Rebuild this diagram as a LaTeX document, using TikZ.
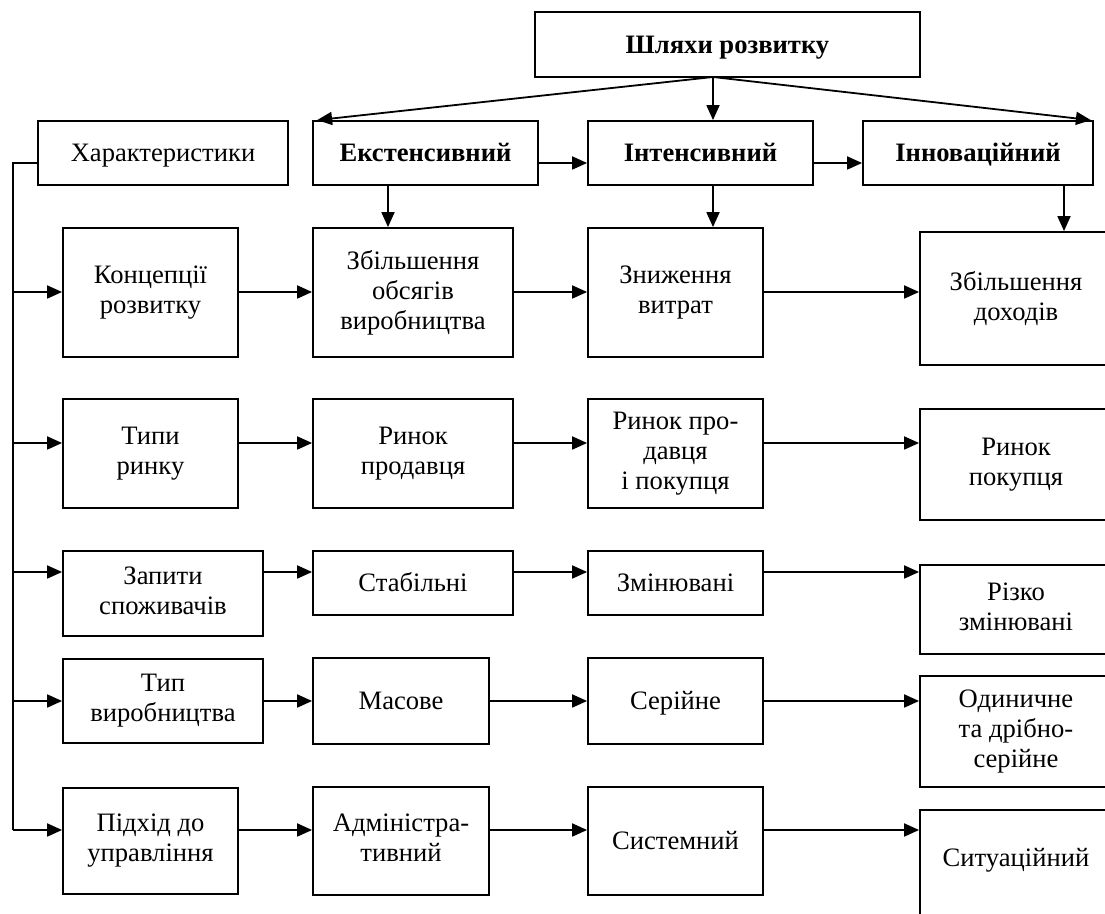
\documentclass[tikz,border=0pt]{standalone}
\usepackage{fontspec}
\setmainfont{Liberation Serif}
\usetikzlibrary{arrows.meta,calc}
\tikzset{
  box/.style={draw, line width=0.9pt, inner sep=0pt, align=center,
    font=\fontsize{13.3}{15}\selectfont,
    execute at begin node={\rule{0pt}{11.85pt}},
    execute at end node={\rule[-2.9pt]{0pt}{2.9pt}}},
  arr/.style={line width=0.9pt, -{Triangle[length=7.5pt,width=6.5pt]}},
  ln/.style={line width=0.9pt}
}
\newcommand\bx[7][]{%
  \pgfmathsetmacro\bxw{(#5-#3)*0.5}%
  \pgfmathsetmacro\bxh{(#6-#4)*0.5}%
  \node[box, minimum width=\bxw pt, minimum height=\bxh pt, #1] (#2)
    at ({(#3+#5)/2},{(#4+#6)/2}) {#7};}
\begin{document}
\begin{tikzpicture}[x=0.5pt,y=-0.5pt]
\fill[white] (0,0) rectangle (1105,914);
\useasboundingbox (0,0) rectangle (1105,914);
\clip (0,0) rectangle (1105,914);
% header
\bx{top}{535}{12}{920}{77}{\textbf{Шляхи розвитку}}
\bx{har}{38}{121}{288}{185}{Характеристики}
\bx{ekst}{313}{121}{538}{185}{\textbf{Екстенсивний}}
\bx{intn}{588}{121}{813}{185}{\textbf{Інтенсивний}}
\bx{innov}{863}{121}{1093}{185}{\textbf{Інноваційний}}
% row 1
\bx{r1a}{63}{228}{238}{357}{Концепції\\розвитку}
\bx{r1b}{313}{228}{513}{357}{Збільшення\\обсягів\\виробництва}
\bx{r1c}{588}{228}{763}{357}{Зниження\\витрат}
\bx{r1d}{920}{232}{1112}{365}{Збільшення\\доходів}
% row 2
\bx{r2a}{63}{399}{238}{508}{Типи\\ринку}
\bx{r2b}{313}{399}{513}{508}{Ринок\\продавця}
\bx{r2c}{588}{399}{763}{508}{Ринок про-\\давця\\і покупця}
\bx{r2d}{920}{409}{1112}{520}{Ринок\\покупця}
% row 3
\bx{r3a}{63}{551}{263}{636}{Запити\\споживачів}
\bx{r3b}{313}{551}{513}{615}{Стабільні}
\bx{r3c}{588}{551}{763}{615}{Змінювані}
\bx{r3d}{920}{565}{1112}{654}{Різко\\змінювані}
% row 4
\bx{r4a}{63}{659}{263}{743}{Тип\\виробництва}
\bx{r4b}{313}{658}{489}{744}{Масове}
\bx{r4c}{588}{658}{763}{744}{Серійне}
\bx{r4d}{920}{676}{1112}{787}{Одиничне\\та дрібно-\\серійне}
% row 5
\bx{r5a}{63}{788}{238}{894}{Підхід до\\управління}
\bx{r5b}{313}{787}{489}{895}{Адміністра-\\тивний}
\bx{r5c}{588}{787}{763}{895}{Системний}
\bx[text depth=14.85pt]{r5d}{920}{810}{1112}{930}{Ситуаційний}
% coordinates
\coordinate (tp) at (713,77);
\coordinate (yh) at (13,163);
\coordinate (y1) at (13,292);
\coordinate (y2) at (13,443);
\coordinate (y3) at (13,572);
\coordinate (y4) at (13,701);
\coordinate (y5) at (13,830);
\coordinate (d1) at (388,0);
\coordinate (d2) at (713,0);
\coordinate (d3) at (1064,0);
% top arrows
\draw[arr] (tp) -- ([xshift=2.5pt]ekst.north west);
\draw[arr] (tp) -- (intn.north -| tp);
\draw[arr] (tp) -- ([xshift=-1.5pt]innov.north east);
\draw[arr] (ekst.east |- yh) -- (intn.west |- yh);
\draw[arr] (intn.east |- yh) -- (innov.west |- yh);
\draw[arr] (ekst.south -| d1) -- (r1b.north -| d1);
\draw[arr] (intn.south -| d2) -- (r1c.north -| d2);
\draw[arr] (innov.south -| d3) -- (r1d.north -| d3);
% bus
\draw[ln] (har.west |- yh) -- (yh) -- (y5);
\draw[arr] (y1) -- (r1a.west |- y1);
\draw[arr] (y2) -- (r2a.west |- y2);
\draw[arr] (y3) -- (r3a.west |- y3);
\draw[arr] (y4) -- (r4a.west |- y4);
\draw[arr] (y5) -- (r5a.west |- y5);
% row arrows
\draw[arr] (r1a.east |- y1) -- (r1b.west |- y1);
\draw[arr] (r1b.east |- y1) -- (r1c.west |- y1);
\draw[arr] (r1c.east |- y1) -- (r1d.west |- y1);
\draw[arr] (r2a.east |- y2) -- (r2b.west |- y2);
\draw[arr] (r2b.east |- y2) -- (r2c.west |- y2);
\draw[arr] (r2c.east |- y2) -- (r2d.west |- y2);
\draw[arr] (r3a.east |- y3) -- (r3b.west |- y3);
\draw[arr] (r3b.east |- y3) -- (r3c.west |- y3);
\draw[arr] (r3c.east |- y3) -- (r3d.west |- y3);
\draw[arr] (r4a.east |- y4) -- (r4b.west |- y4);
\draw[arr] (r4b.east |- y4) -- (r4c.west |- y4);
\draw[arr] (r4c.east |- y4) -- (r4d.west |- y4);
\draw[arr] (r5a.east |- y5) -- (r5b.west |- y5);
\draw[arr] (r5b.east |- y5) -- (r5c.west |- y5);
\draw[arr] (r5c.east |- y5) -- (r5d.west |- y5);
\end{tikzpicture}
\end{document}
